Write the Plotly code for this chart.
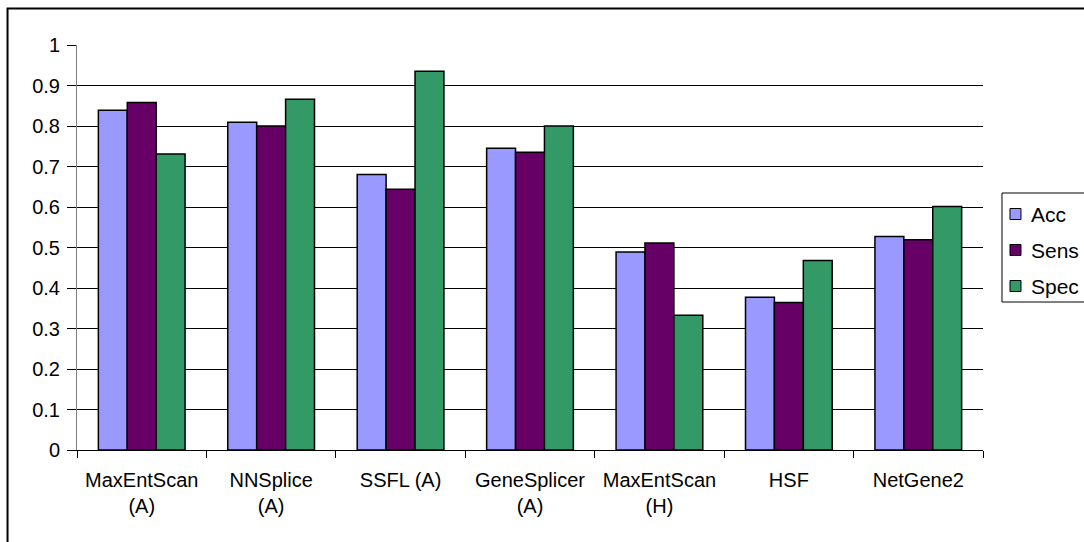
import plotly.graph_objects as go

# Splice-site predictor performance
categories = ["MaxEntScan<br>(A)", "NNSplice<br>(A)", "SSFL (A)", "GeneSplicer<br>(A)",
              "MaxEntScan<br>(H)", "HSF", "NetGene2"]
acc = [0.839, 0.809, 0.680, 0.745, 0.489, 0.377, 0.527]
sens = [0.858, 0.800, 0.644, 0.735, 0.511, 0.364, 0.519]
spec = [0.731, 0.866, 0.935, 0.800, 0.333, 0.468, 0.601]

series_names = ["Acc", "Sens", "Spec"]
series_colors = ["#9999FF", "#660066", "#339966"]

y_ticks = [0, 0.1, 0.2, 0.3, 0.4, 0.5, 0.6, 0.7, 0.8, 0.9, 1]
y_tick_labels = ["0", "0.1", "0.2", "0.3", "0.4", "0.5", "0.6", "0.7", "0.8", "0.9", "1"]

FONT = "Liberation Sans, Arial, sans-serif"
W, H = 1084, 542
ML, MR, MT, MB = 76.5, 101, 45, 92

fig = go.Figure()
for name, vals, color in zip(series_names, [acc, sens, spec], series_colors):
    fig.add_trace(go.Bar(
        x=categories, y=vals, name=name,
        marker=dict(color=color, line=dict(color="black", width=1.5)),
    ))

fig.update_layout(
    width=W, height=H,
    margin=dict(l=ML, r=MR, t=MT, b=MB, autoexpand=False),
    paper_bgcolor="white", plot_bgcolor="white",
    barmode="group", bargap=0.33, bargroupgap=0,
    font=dict(family=FONT, size=20, color="black"),
    showlegend=False,
    xaxis=dict(
        showgrid=False, showline=True, linecolor="black", linewidth=1,
        ticks="outside", ticklen=7, tickcolor="black", tickson="boundaries",
        ticklabelstandoff=12,
        tickfont=dict(family=FONT, size=20, color="black"),
    ),
    yaxis=dict(
        range=[0, 1], tickvals=y_ticks, ticktext=y_tick_labels,
        showgrid=True, gridcolor="black", gridwidth=1,
        showline=True, linecolor="#808080", linewidth=1,
        ticks="outside", ticklen=9, tickcolor="black",
        ticklabelstandoff=3,
        tickfont=dict(family=FONT, size=20, color="black"),
        zeroline=False,
    ),
)

# helpers: pixel -> paper coordinates
pw = W - ML - MR
ph = H - MT - MB
def px(x):
    return (x - ML) / pw
def py(y):
    return (H - MB - y) / ph

# outer chart frame
fig.add_shape(type="rect", xref="paper", yref="paper",
              x0=px(7), x1=px(1100), y0=py(560), y1=py(8.5),
              line=dict(color="black", width=2), fillcolor="rgba(0,0,0,0)", layer="below")

# legend box with swatches and labels
fig.add_shape(type="rect", xref="paper", yref="paper",
              x0=px(1002), x1=px(1100), y0=py(302), y1=py(193),
              line=dict(color="black", width=1), fillcolor="white", layer="above")
for i, (name, color) in enumerate(zip(series_names, series_colors)):
    cy = 214 + 36 * i
    fig.add_shape(type="rect", xref="paper", yref="paper",
                  x0=px(1010), x1=px(1021), y0=py(cy + 5.5), y1=py(cy - 5.5),
                  line=dict(color="black", width=1), fillcolor=color, layer="above")
    fig.add_annotation(xref="paper", yref="paper", x=px(1029), y=py(cy),
                       xanchor="left", yanchor="middle", showarrow=False,
                       text=name, font=dict(family=FONT, size=21, color="black"))

fig.write_html("out.html")
